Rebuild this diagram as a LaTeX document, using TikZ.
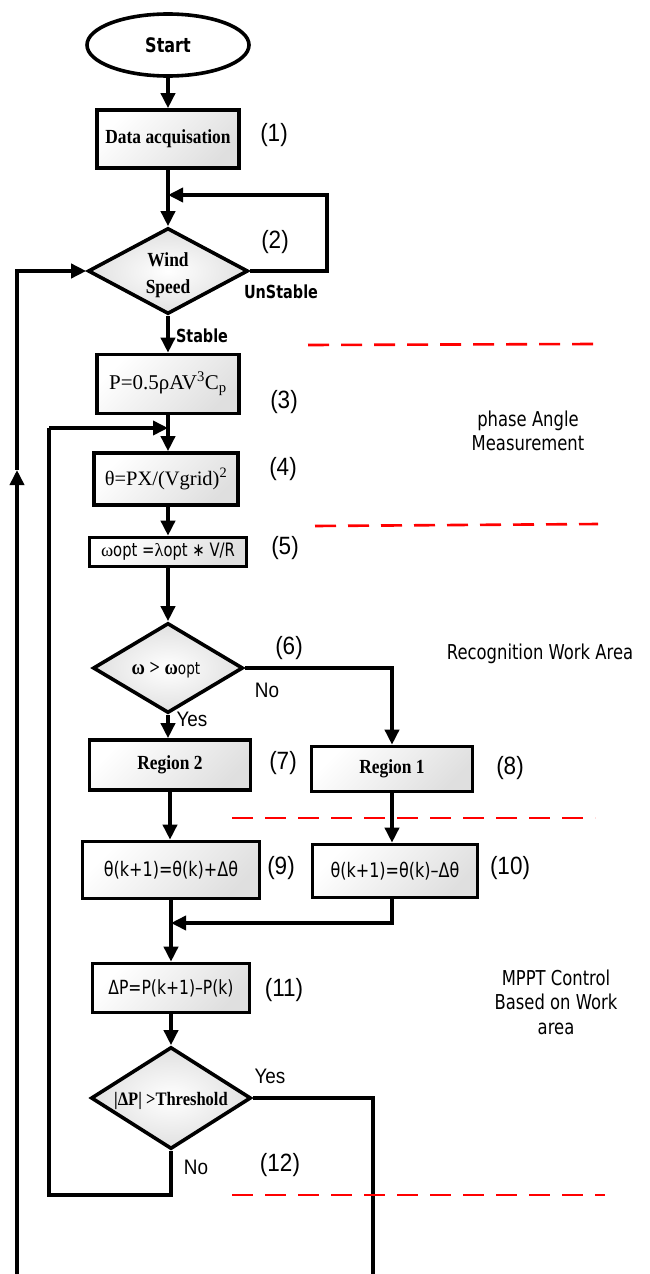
\documentclass[tikz,border=0pt]{standalone}
\usepackage{fontspec}
\setmainfont{Liberation Serif}
\newfontfamily\labfont[FakeStretch=0.8]{DejaVu Sans}
\newfontfamily\numfont[FakeStretch=0.9]{Liberation Sans}
\newfontfamily\serbfont[FakeStretch=0.87]{Liberation Serif Bold}
\usetikzlibrary{arrows.meta,shapes.geometric,calc}
\newcommand\fsz[1]{\fontsize{#1}{#1}\selectfont}

\begin{document}
\begin{tikzpicture}[x=1pt,y=-1pt,line width=3.6pt,
  >={Triangle[length=15pt,width=14pt]},
  box/.style={draw,rectangle,inner sep=0pt,top color=white,bottom color=gray!25,shading angle=45},
  dia/.style={draw,diamond,inner sep=0pt,inner color=white,outer color=gray!24},
  flow/.style={->},
  seg/.style={-},
  zone/.style={red,line width=2.6pt,dash pattern=on 21pt off 12pt},
  tag/.style={font=\numfont\fsz{25}},
  yn/.style={font=\numfont\fsz{21}},
  cond/.style={font=\labfont\bfseries\fsz{18}},
  serb/.style={font=\serbfont\fsz{20}},
  area/.style={font=\labfont\fsz{20.5},align=center}]

\useasboundingbox (0,0) rectangle (650,1274);

% ---- main column ----
\node[draw,ellipse,fill=white,minimum width=162pt,minimum height=62pt,inner sep=0pt,
      font=\labfont\bfseries\fsz{20}] (start) at (168,45) {Start};
\node[box,minimum width=142pt,minimum height=58pt,serb] (data) at (168,139) {Data acquisation};
\node[dia,minimum width=160pt,minimum height=86pt] (wind) at (168,271) {};
\node[serb,align=center] (windtxt) at (168,275) {Wind\\[7pt]Speed};
\node[box,minimum width=142pt,minimum height=59pt,font=\fsz{21}] (pbox) at (168,384)
  {P=0.5ρAV\textsuperscript{3}C\textsubscript{p}};
\node[box,minimum width=144pt,minimum height=52pt,font=\fsz{20.5}] (thbox) at (166,479)
  {θ=PX/(Vgrid)\textsuperscript{2}};
\node[box,minimum width=157pt,minimum height=29pt,font=\labfont\fsz{18.5}] (wopt) at (168,552)
  {{\rmfamily ω}opt ={\rmfamily λ}opt ∗ V/R};
\node[dia,minimum width=150pt,minimum height=90pt] (wd) at (168,668) {};
\node[font=\serbfont\fsz{21}] (wdtxt) at (166,670) {ω > ω{\labfont\fsz{17}opt}};
\node[box,minimum width=161pt,minimum height=50pt,serb] (r2) at (170,765) {Region 2};
\node[box,minimum width=161pt,minimum height=45pt,serb] (r1) at (392,769) {Region 1};
\node[box,minimum width=177pt,minimum height=57pt,font=\labfont\fsz{20}] (tp) at (171,870)
  {θ(k+1)=θ(k)+Δθ};
\node[box,minimum width=165pt,minimum height=53pt,font=\labfont\fsz{20}] (tm) at (395,871)
  {θ(k+1)=θ(k)–Δθ};
\node[box,minimum width=157pt,minimum height=49pt,font=\labfont\fsz{19.5}] (dpbox) at (171,988)
  {ΔP=P(k+1)–P(k)};
\node[dia,minimum width=160pt,minimum height=102pt] (dpd) at (171,1098) {};
\node[font=\serbfont\fsz{19}] (dpdtxt) at (171,1101) {|ΔP| >Threshold};

% ---- junction and end points ----
\coordinate (j1) at (168,195);
\coordinate (j1r) at (327,195);
\coordinate (uns) at (327,271);
\coordinate (fb) at (168,428);
\coordinate (fbl) at (49,428);
\coordinate (nob) at (171,1195);
\coordinate (nobl) at (49,1195);
\coordinate (nofork) at (392,668);
\coordinate (j2) at (171,923);
\coordinate (yesr) at (373,1098);
\coordinate (yesb) at (373,1274);
\coordinate (retb) at (17,1274);
\coordinate (retm) at (17,470);
\coordinate (rett) at (17,271);

% ---- connectors ----
\draw[flow] (start) -- (data);
\draw[flow] (data.south) -- (wind.north);
\draw[flow] (wind.east) -- (uns) -- (j1r) -- (j1);
\draw[flow] (wind.south) -- (pbox.north);
\draw[flow] (pbox.south) -- (thbox.north -| pbox.south);
\draw[flow] (fbl) -- (fb);
\draw[flow] (thbox.south -| pbox.south) -- (wopt.north);
\draw[flow] (wopt.south) -- (wd.north);
\draw[flow] (wd.south) -- (wd.south |- r2.north);
\draw[flow] (wd.east) -- (nofork) -- (r1.north);
\draw[flow] (r2.south) -- (r2.south |- tp.north);
\draw[flow] (r1.south) -- (r1.south |- tm.north);
\draw[flow] (tm.south -| r1.south) |- (j2);
\draw[flow] (tp.south) -- (dpbox.north);
\draw[flow] (dpbox.south) -- (dpd.north);
\draw[seg] (dpd.south) -- (nob) -- (nobl) -- (fbl);
\draw[seg] (dpd.east) -- (yesr) -- (yesb);
\draw[flow] (retb) -- (retm);
\draw[flow] (retm) -- (rett) -- (wind.west);

% ---- branch labels ----
\node[cond] (lunst) at (281,292) {UnStable};
\node[cond] (lst) at (202,336) {Stable};
\node[yn] (lno6) at (267,690) {No};
\node[yn] (lyes6) at (192,719) {Yes};
\node[yn] (lyes12) at (270,1076) {Yes};
\node[yn] (lno12) at (196,1167) {No};

% ---- step numbers ----
\node[tag] (n1) at (274,135) {(1)};
\node[tag] (n2) at (275,242) {(2)};
\node[tag] (n3) at (284,402) {(3)};
\node[tag] (n4) at (283,469) {(4)};
\node[tag] (n5) at (285,548) {(5)};
\node[tag] (n6) at (289,648) {(6)};
\node[tag] (n7) at (283,763) {(7)};
\node[tag] (n8) at (510,768) {(8)};
\node[tag] (n9) at (281,868) {(9)};
\node[tag] (n10) at (510,868) {(10)};
\node[tag] (n11) at (284,990) {(11)};
\node[tag] (n12) at (280,1165) {(12)};

% ---- stage separators and names ----
\draw[zone] (308,345) -- (593,344);
\draw[zone] (315,526) -- (598,524);
\draw[zone] (232,818) -- (595,818);
\draw[zone] (232,1195) -- (605,1195);
\node[area] (ph) at (528,431) {phase Angle\\[4pt]Measurement};
\node[area] (rec) at (540,654) {Recognition Work Area};
\node[area] (mppt) at (556,1002) {MPPT Control\\[4pt]Based on Work\\[4pt]area};
\end{tikzpicture}
\end{document}
